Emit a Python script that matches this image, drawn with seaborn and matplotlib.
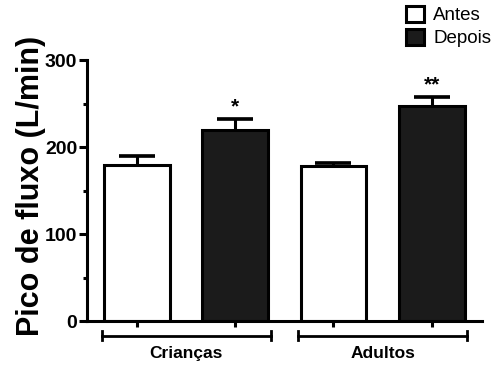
import pandas as pd
import seaborn as sns
import matplotlib.pyplot as plt
from matplotlib.patches import Patch
from matplotlib.ticker import MultipleLocator
import matplotlib.transforms as mtransforms

# -----------------------------------------------
# dados
# -----------------------------------------------
grupos = ["Crianças", "Adultos"]
momentos = ["Antes", "Depois"]
media_antes = [180, 178]
media_depois = [220, 247]
erro_antes = [10, 4]
erro_depois = [12, 11]
marcas = ["*", "**"]

df = pd.DataFrame({
    "grupo": grupos * 2,
    "momento": ["Antes"] * 2 + ["Depois"] * 2,
    "pico": media_antes + media_depois,
    "erro": erro_antes + erro_depois,
})

plt.rcParams["font.family"] = ["Liberation Sans", "DejaVu Sans"]
cores = {"Antes": "white", "Depois": "#1b1b1b"}
lw = 2.2

fig = plt.figure(figsize=(5, 3.73), dpi=100)
ax = fig.add_axes([0.174, 0.1394, 0.79, 0.699])

sns.barplot(data=df, x="grupo", y="pico", hue="momento", order=grupos,
            hue_order=momentos, palette=cores, edgecolor="black", linewidth=lw,
            width=1.0, gap=0.33, errorbar=None, legend=False, ax=ax)

# barras de erro (só para cima) nas posições das barras
centros = []
for barra in ax.patches[:4]:
    centros.append(barra.get_x() + barra.get_width() / 2)
# patches: Antes (Crianças, Adultos), Depois (Crianças, Adultos)
_, caps, _ = ax.errorbar(centros, df["pico"], yerr=[[0] * 4, df["erro"]],
                         fmt="none", ecolor="black", elinewidth=lw,
                         capsize=13, capthick=lw * 1.2, zorder=3)
caps[0].set_visible(False)  # tampa de baixo

# asteriscos
for c, y, e, m in zip(centros[2:], media_depois, erro_depois, marcas):
    ax.text(c, y + e + 3, m, ha="center", va="bottom", fontsize=15,
            fontweight="bold")

ax.set_ylim(0, 300)
ax.set_xlim(-0.504, 1.506)
ax.yaxis.set_major_locator(MultipleLocator(100))
ax.yaxis.set_minor_locator(MultipleLocator(50))
ax.set_xticks(sorted(centros))
ax.set_xticklabels([])
ax.tick_params(axis="y", which="major", length=6, width=lw, labelsize=14,
               pad=1)
ax.tick_params(axis="y", which="minor", length=3, width=lw)
ax.tick_params(axis="x", length=4, width=lw)
for lab in ax.get_yticklabels():
    lab.set_fontweight("bold")

for s in ["top", "right"]:
    ax.spines[s].set_visible(False)
for s in ["left", "bottom"]:
    ax.spines[s].set_linewidth(lw)

ax.set_xlabel("")
ax.set_ylabel("Pico de fluxo (L/min)", fontsize=22, fontweight="bold")
ax.yaxis.set_label_coords(-0.104, 0.518)

# colchetes dos grupos
trans = mtransforms.blended_transform_factory(ax.transData, ax.transAxes)
for i, g in enumerate(grupos):
    x0, x1 = i - 0.43, i + 0.43
    ax.plot([x0, x1], [-0.056, -0.056], color="black", lw=2,
            transform=trans, clip_on=False)
    for xx in (x0, x1):
        ax.plot([xx, xx], [-0.072, -0.040], color="black", lw=2,
                transform=trans, clip_on=False)
    ax.text(i, -0.123, g, transform=trans, ha="center", va="center",
            fontsize=12.5, fontweight="bold")

# legenda
handles = [Patch(facecolor=cores[m], edgecolor="black", linewidth=lw, label=m)
           for m in momentos]
fig.legend(handles=handles, loc="upper left", bbox_to_anchor=(0.812, 0.985),
           frameon=False, fontsize=13.5, handlelength=0.95, handleheight=0.95,
           handletextpad=0.5, labelspacing=0.25, borderpad=0, borderaxespad=0)

fig.savefig("out.png", dpi=100)
